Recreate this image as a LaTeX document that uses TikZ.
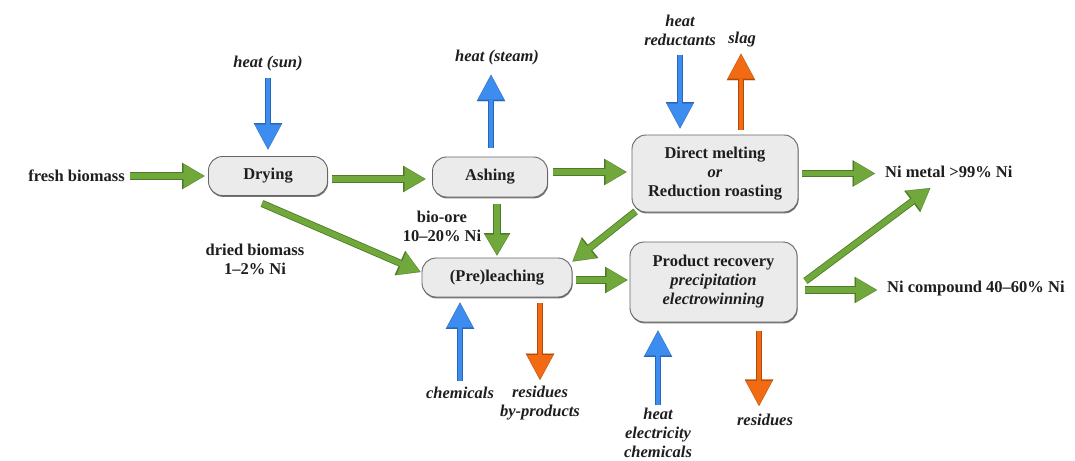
\documentclass[tikz,border=0pt]{standalone}
\usepackage{fontspec}
\setmainfont{LiberationSerif}[Extension=.ttf, UprightFont=*-Regular, BoldFont=*-Bold, ItalicFont=*-Italic, BoldItalicFont=*-BoldItalic]
\usetikzlibrary{arrows.meta,calc}
\definecolor{gF}{HTML}{70A83B}
\definecolor{gD}{HTML}{4C7A26}
\definecolor{bF}{HTML}{3D8DF0}
\definecolor{bD}{HTML}{2A66B8}
\definecolor{oF}{HTML}{F26A12}
\definecolor{oD}{HTML}{B04A08}
\definecolor{boxF}{HTML}{EBEBEB}
\definecolor{boxD}{HTML}{666666}
\definecolor{txt}{HTML}{1E1E1E}
\newcommand\dgfont{\fontsize{16.5}{19}\selectfont\bfseries}
\tikzset{
  box/.style={draw=boxD, fill=boxF, line width=0.9pt, rounded corners=14pt, inner sep=0pt, align=center, font=\dgfont, text=txt,
    preaction={fill=boxD!90, transform canvas={shift={(0.6pt,-1.4pt)}}}},
  lab/.style={inner sep=0pt, align=center, font=\dgfont, text=txt},
  ilab/.style={inner sep=0pt, align=center, font=\dgfont\itshape, text=txt},
  garr/.style={draw=gF, line width=5.6pt, shorten >=1pt,
    -{Triangle[width=24pt,length=20pt,line width=0.1pt]},
    preaction={draw=gD, line width=7.2pt, shorten >=0pt,
    -{Triangle[width=26.5pt,length=22.5pt,line width=0.1pt]}}},
  barr/.style={draw=bF, line width=4.4pt, shorten >=1pt,
    -{Triangle[width=26pt,length=24pt,line width=0.1pt]},
    preaction={draw=bD, line width=5.8pt, shorten >=0pt,
    -{Triangle[width=28.5pt,length=26.5pt,line width=0.1pt]}}},
  oarr/.style={draw=oF, line width=4.4pt, shorten >=1pt,
    -{Triangle[width=26pt,length=24pt,line width=0.1pt]},
    preaction={draw=oD, line width=5.8pt, shorten >=0pt,
    -{Triangle[width=28.5pt,length=26.5pt,line width=0.1pt]}}},
}
\begin{document}
\begin{tikzpicture}[x=1pt,y=-1pt]
\useasboundingbox (0,0) rectangle (1075,460);
\fill[white] (0,0) rectangle (1075,460);
% process boxes
\node[box, minimum width=119pt, minimum height=39pt] (dry) at (268,176) {Drying};
\node[box, minimum width=115pt, minimum height=40pt] (ash) at (490,177) {Ashing};
\node[box, minimum width=166pt, minimum height=77pt] (dm) at (715,173.5) {Direct melting\\\textit{or}\\Reduction roasting};
\node[box, minimum width=150pt, minimum height=39pt] (pl) at (497,277.5) {(Pre)leaching};
\node[box, minimum width=167pt, minimum height=80pt] (pr) at (713.5,282) {Product recovery\\\textit{precipitation}\\\textit{electrowinning}};
% labels
\node[lab, anchor=east] (fresh) at (125,176) {fresh biomass};
\node[ilab] (sun) at (268,64) {heat (sun)};
\node[ilab] (steam) at (497,58) {heat (steam)};
\node[ilab, anchor=south] (hr) at (680,46) {heat\\reductants};
\node[ilab] (slag) at (742,40) {slag};
\node[lab, anchor=west] (nimetal) at (885,172) {Ni metal >99\% Ni};
\node[lab, anchor=west] (nicomp) at (887,289) {Ni compound 40--60\% Ni};
\node[lab] (dried) at (255,259) {dried biomass\\1--2\% Ni};
\node[lab] (bioore) at (442,226) {bio-ore\\10--20\% Ni};
\node[ilab] (chem) at (460,393) {chemicals};
\node[ilab, anchor=north] (res1) at (540,386) {residues\\by-products};
\node[ilab, anchor=north] (hec) at (658,408) {heat\\electricity\\chemicals};
\node[ilab] (res2) at (765,420) {residues};
% connectors
\draw[garr] ($(fresh.east)+(5,0)$) -- ($(dry.west)+(-3.5,0)$);
\draw[barr] ($(sun.south)+(0,6)$) -- ($(dry.north)+(0,-6.5)$);
\draw[garr] ($(dry.east)+(4.5,3)$) -- ($(ash.west)+(-6.5,2)$);
\draw[barr] ($(ash.north)+(1,-9)$) -- ($(steam.south)+(-6,9)$);
\draw[garr] ($(ash.east)+(5.5,-5)$) -- ($(dm.west)+(-5,-1.5)$);
\draw[barr] ($(hr.south)+(0,9)$) -- ($(hr.south |- dm.north)+(0,-6)$);
\draw[oarr] ($(slag.south |- dm.north)+(-1,-5)$) -- ($(slag.south)+(-1,6)$);
\draw[garr] ($(dm.east)+(4,0)$) -- ($(nimetal.west)+(-10,1.5)$);
\draw[garr] ($(ash.south)+(7,7)$) -- ($(pl.north)+(0,-2)$);
\draw[garr] ($(dry.south)+(-6,7.5)$) -- ($(pl.west)+(-1,-5.5)$);
\draw[garr] ($(dm.south west)+(4,-1)$) -- ($(pl.north east)+(0,4)$);
\draw[garr] ($(pl.east)+(4,2.5)$) -- ($(pr.west)+(-2,-2)$);
\draw[barr] ($(chem.north)+(0,-6)$) -- ($(chem.north |- pl.south)+(0,5)$);
\draw[oarr] ($(res1.north |- pl.south)+(0,6)$) -- ($(res1.north)+(0,-6)$);
\draw[barr] ($(hec.north)+(0,-3)$) -- ($(hec.north |- pr.south)+(0,8)$);
\draw[oarr] ($(res2.north |- pr.south)+(-6,9)$) -- ($(res2.north)+(-6,-8)$);
\draw[garr] ($(pr.east)+(8,-1)$) -- ($(nimetal.south)+(-18.5,10)$);
\draw[garr] ($(pr.east)+(8,8)$) -- ($(nicomp.west)+(-10,1)$);
\end{tikzpicture}
\end{document}
